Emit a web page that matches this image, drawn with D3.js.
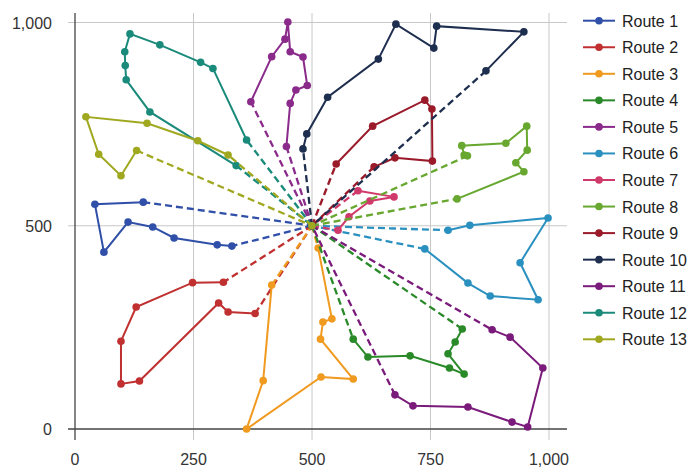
<!DOCTYPE html>
<html>
<head>
<meta charset="utf-8">
<script src="https://cdn.jsdelivr.net/npm/d3@7"></script>
<style>
  body { margin: 0; background: #fff; }
  text { font-family: "Liberation Sans", Arial, sans-serif; }
</style>
</head>
<body>
<div id="main"></div>
<script>
// depot and the customer stops of every route, in visiting order
var depot = [500, 500];

var route1 = [[331,450],[300,453],[209,470],[164,497],[112,509],[61,435],[42,553],[144,558]];
var route2 = [[313,361],[248,360],[129,300],[97,216],[97,111],[136,118],[303,310],[323,288],[380,284]];
var route3 = [[513,445],[542,271],[523,263],[518,221],[587,123],[519,128],[362,0],[397,119],[415,354]];
var route4 = [[587,221],[618,177],[707,180],[790,150],[821,135],[787,185],[802,214],[817,246]];
var route5 = [[371,805],[415,916],[443,959],[449,1001],[454,928],[481,915],[490,845],[466,834],[454,801],[446,695]];
var route6 = [[787,489],[833,501],[998,519],[939,409],[977,318],[876,327],[829,359],[738,443]];
var route7 = [[555,489],[578,522],[622,561],[673,571],[597,586]];
var route8 = [[806,566],[947,633],[930,655],[954,686],[953,745],[909,703],[816,697],[821,674],[828,672]];
var route9 = [[551,652],[628,745],[738,809],[753,787],[754,659],[675,667],[631,645]];
var route10 = [[481,689],[489,726],[533,816],[640,910],[677,996],[757,937],[763,991],[947,977],[867,881]];
var route11 = [[880,244],[918,226],[987,150],[955,5],[922,17],[829,54],[713,57],[675,84]];
var route12 = [[362,711],[291,887],[265,902],[179,945],[116,972],[105,928],[106,894],[108,859],[158,780],[340,648]];
var route13 = [[323,674],[259,709],[152,752],[23,768],[50,676],[97,623],[130,685]];

var routes = [route1, route2, route3, route4, route5, route6, route7, route8, route9, route10, route11, route12, route13];
var routeNames = ["Route 1", "Route 2", "Route 3", "Route 4", "Route 5", "Route 6", "Route 7",
                  "Route 8", "Route 9", "Route 10", "Route 11", "Route 12", "Route 13"];
var routeColors = ["#2f4fa8", "#c03030", "#f09a20", "#2a8a2a", "#8a2a8a", "#2a90c0", "#d03a6a",
                   "#68a830", "#9a1a2a", "#1e2e4e", "#7a1a7a", "#1a8a7a", "#a0a820"];

var xTicks = [0, 250, 500, 750, 1000];
var yTicks = [0, 500, 1000];

var width = 688;
var height = 469;

var x = d3.scaleLinear().domain([0, 1000]).range([75, 549]);
var y = d3.scaleLinear().domain([0, 1000]).range([429, 22.5]);
var fmt = d3.format(",d");

var svg = d3.select("#main").append("svg")
  .attr("width", width)
  .attr("height", height);

// grid
svg.selectAll(".vgrid")
  .data(xTicks.slice(1))
  .enter().append("line")
  .attr("x1", function(d) { return x(d); })
  .attr("x2", function(d) { return x(d); })
  .attr("y1", 13)
  .attr("y2", 440)
  .attr("stroke", "#c8c8c8")
  .attr("stroke-width", 1);

svg.selectAll(".hgrid")
  .data(yTicks.slice(1))
  .enter().append("line")
  .attr("x1", 68)
  .attr("x2", 567)
  .attr("y1", function(d) { return y(d); })
  .attr("y2", function(d) { return y(d); })
  .attr("stroke", "#c8c8c8")
  .attr("stroke-width", 1);

// axis lines
svg.append("line")
  .attr("x1", x(0)).attr("x2", x(0))
  .attr("y1", 13).attr("y2", 440)
  .attr("stroke", "#444").attr("stroke-width", 1.3);
svg.append("line")
  .attr("x1", 68).attr("x2", 567)
  .attr("y1", y(0)).attr("y2", y(0))
  .attr("stroke", "#444").attr("stroke-width", 1.3);

// tick labels
svg.selectAll(".xlab")
  .data(xTicks)
  .enter().append("text")
  .attr("x", function(d) { return x(d); })
  .attr("y", 465)
  .attr("text-anchor", "middle")
  .attr("font-size", 16)
  .attr("fill", "#333")
  .text(function(d) { return fmt(d); });

svg.selectAll(".ylab")
  .data(yTicks)
  .enter().append("text")
  .attr("x", 52)
  .attr("y", function(d) { return y(d) + 6; })
  .attr("text-anchor", "end")
  .attr("font-size", 16)
  .attr("fill", "#333")
  .text(function(d) { return fmt(d); });

var line = d3.line()
  .x(function(d) { return x(d[0]); })
  .y(function(d) { return y(d[1]); });

// routes: dashed link from/to depot, solid between stops
routes.forEach(function(stops, i) {
  var g = svg.append("g");
  var c = routeColors[i];

  g.append("path")
    .attr("d", line([depot, stops[0]]))
    .attr("fill", "none").attr("stroke", c)
    .attr("stroke-width", 2.3).attr("stroke-dasharray", "7,4");
  g.append("path")
    .attr("d", line([stops[stops.length - 1], depot]))
    .attr("fill", "none").attr("stroke", c)
    .attr("stroke-width", 2.3).attr("stroke-dasharray", "7,4");

  g.append("path")
    .attr("d", line(stops))
    .attr("fill", "none").attr("stroke", c)
    .attr("stroke-width", 2);

  g.selectAll("circle")
    .data(stops.concat([depot]))
    .enter().append("circle")
    .attr("cx", function(d) { return x(d[0]); })
    .attr("cy", function(d) { return y(d[1]); })
    .attr("r", 3.8)
    .attr("fill", c);
});

// legend
var legend = svg.selectAll(".legend")
  .data(routeNames)
  .enter().append("g")
  .attr("transform", function(d, i) { return "translate(0," + (20.7 + i * 26.55) + ")"; });

legend.append("line")
  .attr("x1", 583).attr("x2", 615)
  .attr("y1", 0).attr("y2", 0)
  .attr("stroke", function(d, i) { return routeColors[i]; })
  .attr("stroke-width", 2);
legend.append("circle")
  .attr("cx", 599).attr("cy", 0).attr("r", 3.8)
  .attr("fill", function(d, i) { return routeColors[i]; });
legend.append("text")
  .attr("x", 622).attr("y", 6)
  .attr("font-size", 16)
  .attr("fill", "#222")
  .text(function(d) { return d; });
</script>
</body>
</html>
